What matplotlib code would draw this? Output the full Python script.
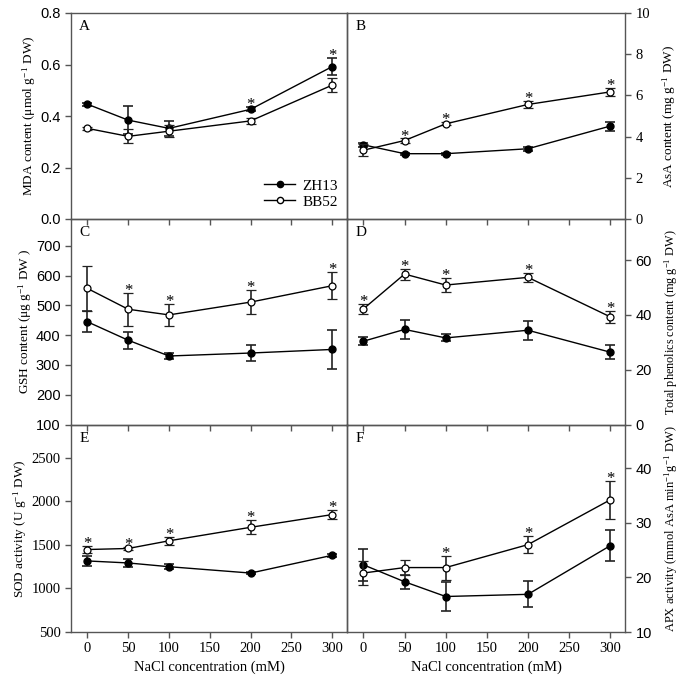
import numpy as np
import matplotlib
matplotlib.use('Agg')
import matplotlib.pyplot as plt
from matplotlib.lines import Line2D

SERIF = 'Liberation Serif'
SANS = 'Liberation Sans'
matplotlib.rcParams['font.family'] = SERIF
matplotlib.rcParams['mathtext.fontset'] = 'stix'

nacl = np.array([0, 50, 100, 200, 300])

# A: MDA
mda_zh = [0.446, 0.384, 0.352, 0.426, 0.592]
mda_zh_err = [0.006, 0.054, 0.030, 0.008, 0.034]
mda_bb = [0.352, 0.321, 0.341, 0.381, 0.520]
mda_bb_err = [0.005, 0.027, 0.024, 0.012, 0.026]
mda_star_zh = [200, 300]

# B: AsA
asa_zh = [3.60, 3.17, 3.17, 3.41, 4.51]
asa_zh_err = [0.10, 0.05, 0.05, 0.10, 0.22]
asa_bb = [3.34, 3.81, 4.62, 5.56, 6.17]
asa_bb_err = [0.28, 0.10, 0.08, 0.15, 0.18]
asa_star_bb = [50, 100, 200, 300]

# C: GSH
gsh_zh = [445, 383, 330, 340, 352]
gsh_zh_err = [36, 28, 9, 26, 64]
gsh_bb = [557, 487, 468, 511, 566]
gsh_bb_err = [75, 55, 36, 40, 45]
gsh_star_bb = [50, 100, 200, 300]

# D: total phenolics
phe_zh = [30.4, 34.7, 31.6, 34.4, 26.4]
phe_zh_err = [1.5, 3.5, 1.3, 3.4, 2.5]
phe_bb = [42.2, 54.9, 50.9, 53.7, 39.3]
phe_bb_err = [1.7, 2.0, 2.7, 1.6, 2.3]
phe_star_bb = [0, 50, 100, 200, 300]

# E: SOD
sod_zh = [1315, 1292, 1249, 1176, 1380]
sod_zh_err = [60, 45, 30, 15, 15]
sod_bb = [1446, 1458, 1546, 1701, 1847]
sod_bb_err = [45, 15, 45, 80, 55]
sod_star_bb = [0, 50, 100, 200, 300]

# F: APX
apx_zh = [22.3, 19.2, 16.5, 16.9, 25.8]
apx_zh_err = [2.9, 1.3, 2.7, 2.4, 2.8]
apx_bb = [20.8, 21.8, 21.8, 26.0, 34.2]
apx_bb_err = [2.2, 1.3, 2.2, 1.6, 3.5]
apx_star_bb = [100, 200, 300]

fig = plt.figure(figsize=(6.83, 6.83), dpi=100)

W, H = 683.0, 683.0
def box(x0, y0, x1, y1):
    return [x0 / W, 1 - y1 / H, (x1 - x0) / W, (y1 - y0) / H]

spine_c = '#555555'

def panel(rect, zh, zh_err, bb, bb_err, ylim, yticks, ylabel, letter,
          side='left', tickfont=SANS, stars=None, star_series='bb', xlabels=False,
          ylabel_size=9.5):
    ax = fig.add_axes(rect)
    ax.patch.set_alpha(0)
    for s in ax.spines.values():
        s.set_color(spine_c)
        s.set_linewidth(1.0)
    ax.errorbar(nacl, zh, yerr=zh_err, fmt='-o', color='black', ecolor='#222222',
                mfc='black', mec='black', ms=5, lw=1.0, elinewidth=1.2,
                capsize=3.5, capthick=1.2, zorder=3)
    ax.errorbar(nacl, bb, yerr=bb_err, fmt='-o', color='black', ecolor='#222222',
                mfc='white', mec='black', ms=5, mew=0.9, lw=1.0, elinewidth=1.2,
                capsize=3.5, capthick=1.2, zorder=4)
    vals = zh if star_series == 'zh' else bb
    errs = zh_err if star_series == 'zh' else bb_err
    for xs in (stars or []):
        i = list(nacl).index(xs)
        ax.annotate('*', (xs, vals[i] + errs[i]), xytext=(0, -1.5),
                    textcoords='offset points', ha='center', va='baseline',
                    fontsize=12, family=SERIF)
    ax.set_xlim(-20, 318)
    ax.set_ylim(*ylim)
    ax.set_xticks(np.arange(0, 301, 50))
    ax.set_yticks(yticks)
    ax.tick_params(direction='out', length=4, width=1.0, color=spine_c)
    if side == 'left':
        ax.yaxis.tick_left()
    else:
        ax.yaxis.tick_right()
        ax.yaxis.set_label_position('right')
    for lab in ax.get_yticklabels():
        lab.set_family(tickfont)
        lab.set_fontsize(10.5)
    if xlabels:
        ax.set_xlabel('NaCl concentration (mM)', fontsize=10.5, family=SERIF, labelpad=4)
        for lab in ax.get_xticklabels():
            lab.set_family(SERIF)
            lab.set_fontsize(10.5)
    else:
        ax.tick_params(axis='x', labelbottom=False)
    ax.set_ylabel(ylabel, fontsize=ylabel_size, family=SERIF,
                  labelpad=1 if side == 'left' else 8)
    ax.text(0.03, 0.965, letter, transform=ax.transAxes, ha='left', va='top',
            fontsize=11, family=SERIF)
    return ax

axA = panel(box(71, 13, 347, 219), mda_zh, mda_zh_err, mda_bb, mda_bb_err,
            (0, 0.8), [0.0, 0.2, 0.4, 0.6, 0.8],
            r'MDA content ($\mathregular{\mu}$mol g$^{\mathregular{-1}}$ DW)', 'A',
            stars=mda_star_zh, star_series='zh')
axA.set_yticklabels(['0.0', '0.2', '0.4', '0.6', '0.8'])
for lab in axA.get_yticklabels():
    lab.set_family(SANS)
    lab.set_fontsize(10.5)
handles = [Line2D([], [], color='black', marker='o', ms=4.5, mfc='black', mec='black', lw=1.0),
           Line2D([], [], color='black', marker='o', ms=4.5, mfc='white', mec='black', lw=1.0)]
axA.legend(handles, ['ZH13', 'BB52'], loc='lower right', bbox_to_anchor=(0.99, 0.02),
           frameon=False, handlelength=2.0, handletextpad=0.5,
           borderaxespad=0.0, labelspacing=0.15,
           prop={'family': SERIF, 'size': 11})

panel(box(347, 13, 625, 219), asa_zh, asa_zh_err, asa_bb, asa_bb_err,
      (0, 10), [0, 2, 4, 6, 8, 10],
      r'AsA content (mg g$^{\mathregular{-1}}$ DW)', 'B',
      side='right', tickfont=SERIF, stars=asa_star_bb)

panel(box(71, 219, 347, 424.5), gsh_zh, gsh_zh_err, gsh_bb, gsh_bb_err,
      (100, 790), [100, 200, 300, 400, 500, 600, 700],
      r'GSH content ($\mathregular{\mu}$g g$^{\mathregular{-1}}$ DW )', 'C',
      stars=gsh_star_bb)

panel(box(347, 219, 625, 424.5), phe_zh, phe_zh_err, phe_bb, phe_bb_err,
      (0, 75), [0, 20, 40, 60],
      r'Total phenolics content (mg g$^{\mathregular{-1}}$ DW)', 'D',
      side='right', stars=phe_star_bb, ylabel_size=8.8)

panel(box(71, 424.5, 347, 632), sod_zh, sod_zh_err, sod_bb, sod_bb_err,
      (500, 2880), [500, 1000, 1500, 2000, 2500],
      r'SOD activity (U g$^{\mathregular{-1}}$ DW)', 'E',
      tickfont=SERIF, stars=sod_star_bb, xlabels=True)

panel(box(347, 424.5, 625, 632), apx_zh, apx_zh_err, apx_bb, apx_bb_err,
      (10, 48), [10, 20, 30, 40],
      r'APX activity (mmol AsA min$^{\mathregular{-1}}$g$^{\mathregular{-1}}$ DW)', 'F',
      side='right', stars=apx_star_bb, xlabels=True, ylabel_size=9)

fig.savefig('out.png', dpi=100)
